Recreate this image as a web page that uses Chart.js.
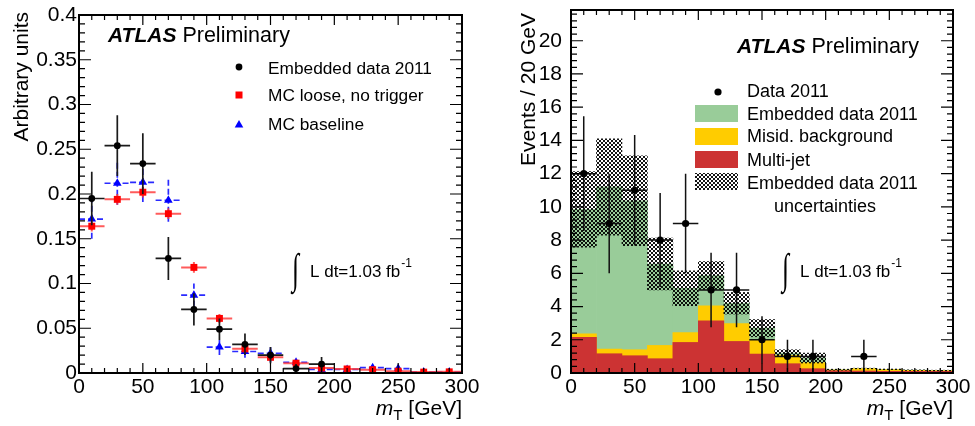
<!DOCTYPE html>
<html>
<head>
<meta charset="utf-8">
<script src="https://cdn.jsdelivr.net/npm/chart.js@4.4.0/dist/chart.umd.min.js"></script>
<style>
  html, body { margin: 0; padding: 0; background: #fff; overflow: hidden; }
  #wrap { position: relative; width: 975px; height: 426px; overflow: hidden; }
  #c1 { position: absolute; left: 0; top: -20px; }
  #c2 { position: absolute; left: 487px; top: -20px; }
</style>
</head>
<body>
<div id="wrap">
  <canvas id="c1" width="487" height="446"></canvas>
  <canvas id="c2" width="488" height="446"></canvas>
</div>
<script>
// ---------------- data ----------------
const binCenters = [10, 30, 50, 70, 90, 110, 130, 150, 170, 190, 210, 230, 250, 270, 290];
const binHalfWidth = 10;
const xTickLabels = ['0', '50', '100', '150', '200', '250', '300'];
const leftYTickLabels = ['0', '0.05', '0.1', '0.15', '0.2', '0.25', '0.3', '0.35', '0.4'];
const rightYTickLabels = ['0', '2', '4', '6', '8', '10', '12', '14', '16', '18', '20'];

// left panel: normalised m_T shapes
const embeddedShape    = [0.195, 0.254, 0.234, 0.128, 0.071, 0.049, 0.032, 0.020, 0.005, 0.010, null, null, null, null, null];
const embeddedShapeErr = [0.030, 0.034, 0.034, 0.024, 0.018, 0.012, 0.012, 0.009, 0.005, 0.008, null, null, null, null, null];
const mcLoose          = [0.164, 0.194, 0.202, 0.178, 0.118, 0.061, 0.027, 0.0175, 0.011, 0.0055, 0.0045, 0.0037, 0.002, 0.001, 0.0013];
const mcLooseErr       = [0.006, 0.006, 0.006, 0.006, 0.006, 0.005, 0.004, 0.003, 0.002, 0.002, 0.001, 0.001, 0.001, 0.001, 0.001];
const mcBaseline       = [0.172, 0.212, 0.213, 0.193, 0.087, 0.029, 0.024, 0.022, 0.012, 0.004, 0.004, 0.006, 0.005, 0.001, 0.001];
const mcBaselineErr    = [0.022, 0.024, 0.022, 0.024, 0.013, 0.009, 0.007, 0.010, 0.005, 0.003, 0.002, 0.004, 0.004, 0.001, 0.001];

// right panel: events / 20 GeV
const data2011    = [12, 9, 11, 8, 9, 5, 5, 2, 1, 1, null, 1, null, null, null];
const data2011Err = [3.46, 3.0, 3.32, 2.83, 3.0, 2.24, 2.24, 1.41, 1.0, 1.0, null, 1.0, null, null, null];
const multiJet    = [2.14, 1.16, 1.04, 0.86, 1.84, 3.14, 1.90, 1.14, 0.56, 0.26, 0.14, 0.12, 0.10, 0.10, 0.10];
const misidBkg    = [0.22, 0.28, 0.36, 0.80, 0.60, 0.91, 1.08, 0.86, 0.50, 0.36, 0.04, 0.14, 0.10, 0.06, 0.04];
const embeddedBkg = [7.49, 9.76, 8.97, 4.90, 2.66, 1.81, 1.22, 0.70, 0.14, 0.28, 0.02, 0.01, 0.02, 0.01, 0.01];
const embeddedUnc = [2.27, 2.90, 2.70, 1.56, 1.05, 0.85, 0.65, 0.52, 0.20, 0.30, 0.03, 0.02, 0.02, 0.02, 0.02];

// ---------------- helpers ----------------
const FONT = 'Liberation Sans, Arial, Helvetica, sans-serif';
const TOP = 20; // canvas is shifted up by this many px

function points(values, errs) {
  const out = [];
  binCenters.forEach((x, i) => {
    if (values[i] !== null && values[i] !== undefined) out.push({ x: x, y: values[i], e: errs[i] });
  });
  return out;
}

const errorBarPlugin = {
  id: 'errorBars',
  beforeDatasetDraw(chart, args) {
    const ds = chart.data.datasets[args.index];
    if (!ds.errorBars) return;
    const { ctx, chartArea: a } = chart;
    const xs = chart.scales.x, ys = chart.scales.y;
    ctx.save();
    ctx.beginPath();
    ctx.rect(a.left, a.top, a.right - a.left, a.bottom - a.top);
    ctx.clip();
    ctx.strokeStyle = ds.errorBars.color;
    ctx.lineWidth = ds.errorBars.width;
    ctx.setLineDash(ds.errorBars.dash || []);
    ds.data.forEach(d => {
      const px = xs.getPixelForValue(d.x), py = ys.getPixelForValue(d.y);
      const x0 = xs.getPixelForValue(d.x - binHalfWidth), x1 = xs.getPixelForValue(d.x + binHalfWidth);
      const y0 = ys.getPixelForValue(Math.max(0, d.y - d.e)), y1 = ys.getPixelForValue(d.y + d.e);
      ctx.beginPath();
      ctx.moveTo(x0, py); ctx.lineTo(x1, py);
      ctx.moveTo(px, y0); ctx.lineTo(px, y1);
      ctx.stroke();
    });
    ctx.restore();
  }
};

function drawFrame(chart, t) {
  const { ctx, chartArea: a } = chart;
  const xs = chart.scales.x, ys = chart.scales.y;
  ctx.save();
  ctx.strokeStyle = '#000';
  ctx.lineWidth = 1.2;
  ctx.beginPath();
  const nx = Math.round((xs.max - xs.min) / t.xMinor);
  for (let k = 0; k <= nx; k++) {
    const v = xs.min + k * t.xMinor;
    const major = (k % t.xPer) === 0;
    const L = major ? 10 : 5;
    const px = xs.getPixelForValue(v);
    ctx.moveTo(px, a.bottom); ctx.lineTo(px, a.bottom - L);
    ctx.moveTo(px, a.top); ctx.lineTo(px, a.top + L);
  }
  const ny = Math.floor((ys.max - ys.min) / t.yMinor + 1e-6);
  for (let k = 0; k <= ny; k++) {
    const v = ys.min + k * t.yMinor;
    const major = (k % t.yPer) === 0;
    const L = major ? 12 : 6;
    const py = ys.getPixelForValue(v);
    ctx.moveTo(a.left, py); ctx.lineTo(a.left + L, py);
    ctx.moveTo(a.right, py); ctx.lineTo(a.right - L, py);
  }
  ctx.stroke();
  ctx.lineWidth = 2;
  ctx.strokeRect(a.left, a.top, a.right - a.left, a.bottom - a.top);
  ctx.restore();
}

function drawXTitle(ctx, right, baseline) {
  ctx.save();
  ctx.fillStyle = '#000';
  ctx.textBaseline = 'alphabetic';
  ctx.textAlign = 'left';
  ctx.font = '21px ' + FONT;
  const rest = ' [GeV]';
  const wRest = ctx.measureText(rest).width;
  ctx.font = '15px ' + FONT;
  const wT = ctx.measureText('T').width;
  ctx.font = 'italic 21px ' + FONT;
  const wM = ctx.measureText('m').width;
  let x = right - wRest - wT - wM;
  ctx.fillText('m', x, baseline);
  x += wM;
  ctx.font = '15px ' + FONT;
  ctx.fillText('T', x, baseline + 5);
  x += wT;
  ctx.font = '21px ' + FONT;
  ctx.fillText(rest, x, baseline);
  ctx.restore();
}

function drawYTitle(ctx, text, baselineX, endY) {
  ctx.save();
  ctx.fillStyle = '#000';
  ctx.font = '21px ' + FONT;
  ctx.translate(baselineX, endY);
  ctx.rotate(-Math.PI / 2);
  ctx.textAlign = 'right';
  ctx.textBaseline = 'alphabetic';
  ctx.fillText(text, 0, 0);
  ctx.restore();
}

function drawAtlas(ctx, x, baseline) {
  ctx.save();
  ctx.fillStyle = '#000';
  ctx.textAlign = 'left';
  ctx.textBaseline = 'alphabetic';
  ctx.font = 'italic bold 21px ' + FONT;
  ctx.fillText('ATLAS', x, baseline);
  const w = ctx.measureText('ATLAS').width;
  ctx.font = '21.5px ' + FONT;
  ctx.fillText(' Preliminary', x + w, baseline);
  ctx.restore();
}

function drawLumi(ctx, x, baseline) {
  ctx.save();
  ctx.fillStyle = '#000';
  ctx.textAlign = 'left';
  ctx.textBaseline = 'alphabetic';
  // tall, thin integral sign
  ctx.save();
  ctx.translate(x - 18, baseline + 6);
  ctx.scale(0.75, 1.25);
  ctx.font = '200 34px Liberation Serif, DejaVu Serif, serif';
  ctx.fillText('\u222B', 0, 0);
  ctx.restore();
  ctx.font = '17px ' + FONT;
  const main = 'L dt=1.03 fb';
  ctx.fillText(main, x, baseline);
  const w = ctx.measureText(main).width;
  ctx.font = '12px ' + FONT;
  ctx.fillText('-1', x + w + 1, baseline - 10);
  ctx.restore();
}

function legendText(ctx, text, x, baseline, size, align) {
  ctx.save();
  ctx.fillStyle = '#000';
  ctx.font = size + 'px ' + FONT;
  ctx.textAlign = align || 'left';
  ctx.textBaseline = 'alphabetic';
  ctx.fillText(text, x, baseline);
  ctx.restore();
}

// hatch pattern for the uncertainty band
function makeHatch() {
  const c = document.createElement('canvas');
  c.width = 4; c.height = 4;
  const g = c.getContext('2d');
  g.fillStyle = 'rgba(0,0,0,0.92)';
  g.fillRect(0, 0, 2, 2);
  g.fillRect(2, 2, 2, 2);
  return g.createPattern(c, 'repeat');
}
const hatch = makeHatch();

function axisOptions(xFit, yFit, yMax, yStep, yLabels, yPad) {
  const font = { family: FONT, size: 21 };
  return {
    x: {
      type: 'linear', min: 0, max: 300, offset: false,
      grid: { display: false, drawTicks: false, offset: false },
      border: { display: false },
      ticks: { stepSize: 50, autoSkip: false, includeBounds: false, maxRotation: 0, padding: 2, color: '#000', font: font,
               callback: (v, i) => xTickLabels[i] },
      afterFit(s) { s.height = xFit; }
    },
    y: {
      type: 'linear', min: 0, max: yMax,
      grid: { display: false, drawTicks: false },
      border: { display: false },
      ticks: { stepSize: yStep, autoSkip: false, includeBounds: false, padding: yPad, color: '#000', font: font,
               callback: (v, i) => yLabels[i] },
      afterFit(s) { s.width = yFit; }
    }
  };
}

// ---------------- left chart ----------------
new Chart(document.getElementById('c1'), {
  type: 'scatter',
  data: {
    datasets: [
      { label: 'Embedded data 2011', data: points(embeddedShape, embeddedShapeErr),
        pointStyle: 'circle', pointRadius: 3.4, backgroundColor: '#000', borderWidth: 0,
        errorBars: { color: '#1a1a1a', width: 1.7 } },
      { label: 'MC loose, no trigger', data: points(mcLoose, mcLooseErr),
        pointStyle: 'rect', pointRadius: 4.9, backgroundColor: '#ff0000', borderWidth: 0,
        errorBars: { color: 'rgba(255,50,50,0.8)', width: 2 } },
      { label: 'MC baseline', data: points(mcBaseline, mcBaselineErr),
        pointStyle: 'triangle', pointRadius: 5, backgroundColor: '#0000ff', borderWidth: 0,
        errorBars: { color: '#2a2aff', width: 1.7, dash: [6, 3] } }
    ]
  },
  options: {
    responsive: false, animation: false, events: [],
    layout: { padding: { top: 15 + TOP, right: 25, left: 0, bottom: 0 } },
    plugins: { legend: { display: false }, tooltip: { enabled: false } },
    scales: axisOptions(53, 79, 0.4, 0.05, leftYTickLabels, 2)
  },
  plugins: [errorBarPlugin, {
    id: 'decorLeft',
    afterDraw(chart) {
      const ctx = chart.ctx;
      drawFrame(chart, { xMinor: 10, xPer: 5, yMinor: 0.01, yPer: 5 });
      drawYTitle(ctx, 'Arbitrary units', 28, 12 + TOP);
      drawXTitle(ctx, chart.chartArea.right, 415 + TOP);
      drawAtlas(ctx, 108, 42 + TOP);
      // legend
      ctx.save();
      ctx.fillStyle = '#000';
      ctx.beginPath(); ctx.arc(239, 67 + TOP, 3.4, 0, Math.PI * 2); ctx.fill();
      ctx.fillStyle = '#ff0000';
      ctx.fillRect(239 - 3.5, 95 + TOP - 3.5, 7, 7);
      ctx.fillStyle = '#0000ff';
      ctx.beginPath(); ctx.moveTo(239, 125 + TOP - 5); ctx.lineTo(239 + 4.3, 125 + TOP + 2.5); ctx.lineTo(239 - 4.3, 125 + TOP + 2.5); ctx.closePath(); ctx.fill();
      ctx.restore();
      legendText(ctx, 'Embedded data 2011', 268, 74 + TOP, 17.3);
      legendText(ctx, 'MC loose, no trigger', 268, 101 + TOP, 17.3);
      legendText(ctx, 'MC baseline', 268, 130 + TOP, 17.3);
      drawLumi(ctx, 310, 277 + TOP);
    }
  }]
});

// ---------------- right chart ----------------
const stackRed = multiJet;
const stackYellow = multiJet.map((v, i) => v + misidBkg[i]);
const stackGreen = stackYellow.map((v, i) => v + embeddedBkg[i]);
const barCommon = { type: 'bar', grouped: false, barPercentage: 1, categoryPercentage: 1, borderWidth: 0 };

new Chart(document.getElementById('c2'), {
  type: 'bar',
  data: {
    datasets: [
      { type: 'scatter', label: 'Data 2011', data: points(data2011, data2011Err),
        pointStyle: 'circle', pointRadius: 3.6, backgroundColor: '#000', borderWidth: 0,
        errorBars: { color: '#111', width: 1.5 } },
      Object.assign({ label: 'Embedded data 2011 uncertainties',
        data: binCenters.map((x, i) => ({ x: x, y: [stackGreen[i] - embeddedUnc[i], stackGreen[i] + embeddedUnc[i]] })),
        backgroundColor: hatch }, barCommon),
      Object.assign({ label: 'Multi-jet', data: binCenters.map((x, i) => ({ x: x, y: stackRed[i] })),
        backgroundColor: '#cc3333' }, barCommon),
      Object.assign({ label: 'Misid. background', data: binCenters.map((x, i) => ({ x: x, y: stackYellow[i] })),
        backgroundColor: '#ffcc00' }, barCommon),
      Object.assign({ label: 'Embedded data 2011', data: binCenters.map((x, i) => ({ x: x, y: stackGreen[i] })),
        backgroundColor: '#99cc99' }, barCommon)
    ]
  },
  options: {
    responsive: false, animation: false, events: [],
    layout: { padding: { top: 10 + TOP, right: 22, left: 0, bottom: 0 } },
    plugins: { legend: { display: false }, tooltip: { enabled: false } },
    scales: axisOptions(53, 84, 21.85, 2, rightYTickLabels, 9)
  },
  plugins: [errorBarPlugin, {
    id: 'decorRight',
    afterDraw(chart) {
      const ctx = chart.ctx;
      drawFrame(chart, { xMinor: 10, xPer: 5, yMinor: 0.4, yPer: 5 });
      drawYTitle(ctx, 'Events / 20 GeV', 48, 13 + TOP);
      drawXTitle(ctx, chart.chartArea.right, 415 + TOP);
      drawAtlas(ctx, 250, 53 + TOP);
      // legend
      ctx.save();
      ctx.fillStyle = '#000';
      ctx.beginPath(); ctx.arc(231, 92 + TOP, 3.6, 0, Math.PI * 2); ctx.fill();
      ctx.fillStyle = '#99cc99'; ctx.fillRect(208, 105 + TOP, 43, 17);
      ctx.fillStyle = '#ffcc00'; ctx.fillRect(208, 128 + TOP, 43, 17);
      ctx.fillStyle = '#cc3333'; ctx.fillRect(208, 151 + TOP, 43, 17);
      ctx.fillStyle = hatch; ctx.fillRect(208, 173 + TOP, 43, 17);
      ctx.restore();
      legendText(ctx, 'Data 2011', 260, 97 + TOP, 18);
      legendText(ctx, 'Embedded data 2011', 260, 120 + TOP, 18);
      legendText(ctx, 'Misid. background', 260, 142 + TOP, 18);
      legendText(ctx, 'Multi-jet', 260, 166 + TOP, 18);
      legendText(ctx, 'Embedded data 2011', 260, 189 + TOP, 18);
      legendText(ctx, 'uncertainties', 338, 212 + TOP, 18, 'center');
      drawLumi(ctx, 313, 277 + TOP);
    }
  }]
});
</script>
</body>
</html>
